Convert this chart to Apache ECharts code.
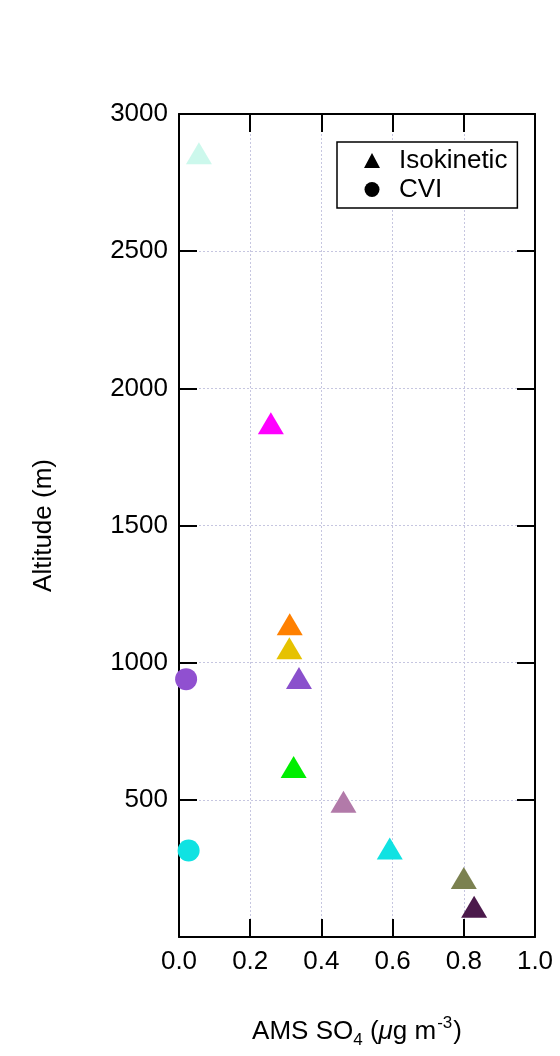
<!DOCTYPE html>
<html>
<head>
<meta charset="utf-8">
<script src="https://cdn.jsdelivr.net/npm/echarts@6/dist/echarts.min.js"></script>
<style>
html,body{margin:0;padding:0;background:#fff;}
#chart{width:560px;height:1056px;}
</style>
</head>
<body>
<div id="chart"></div>
<script>
// ---- data ----
const isoSO4 = [0.056, 0.258, 0.311, 0.310, 0.337, 0.322, 0.462, 0.592, 0.800, 0.829];
const isoAlt = [2857, 1873, 1140, 1053, 944, 620, 493, 323, 215, 110];
const cviSO4 = [0.020, 0.027];
const cviAlt = [940, 315];
const xTicks = [0.0, 0.2, 0.4, 0.6, 0.8, 1.0];
const yTicks = [500, 1000, 1500, 2000, 2500, 3000];
// point colours (style)
const isoColors = ['rgba(110,235,200,0.35)', '#ff00ff', '#ff8000', '#e6c200', '#8a50cc', '#00ee00', '#b27aa9', '#10e2e2', '#7b8150', '#4b1a4b'];
const cviColors = ['#9050d0', '#10e2e2'];

const FONT = '"Liberation Sans", Arial, Helvetica, sans-serif';
const chart = echarts.init(document.getElementById('chart'), null, {renderer: 'canvas'});

const isoData = isoSO4.map((v, i) => ({value: [v, isoAlt[i]], itemStyle: {color: isoColors[i], opacity: 1}}));
const cviData = cviSO4.map((v, i) => ({value: [v, cviAlt[i]], itemStyle: {color: cviColors[i], opacity: 1}}));

const axisCommon = {
  axisLine: {show: true, onZero: false, lineStyle: {color: '#000', width: 2}},
  axisTick: {show: true, inside: true, length: 18, lineStyle: {color: '#000', width: 2}},
};

chart.setOption({
  animation: false,
  backgroundColor: '#fff',
  grid: {left: 179, right: 25, top: 114, bottom: 119, containLabel: false},
  legend: {
    orient: 'vertical',
    left: 337, top: 142,
    padding: [4, 10, 4, 27],
    itemGap: 0,
    itemWidth: 16, itemHeight: 15,
    borderColor: '#000', borderWidth: 1.5,
    backgroundColor: '#fff',
    textStyle: {fontFamily: FONT, fontSize: 26, color: '#000', lineHeight: 29, padding: [0, 0, 0, 14]},
    data: [
      {name: 'Isokinetic', icon: 'triangle', itemStyle: {color: '#000', opacity: 1}},
      {name: 'CVI', icon: 'circle', itemStyle: {color: '#000', opacity: 1}}
    ]
  },
  xAxis: [
    Object.assign({
      type: 'value', position: 'bottom', min: 0, max: 1, interval: 0.2,
      name: '{n|AMS SO}{sub|4}{n| (}{it|μ}{n|g m}{sup|-3}{n|)}',
      nameLocation: 'middle', nameGap: 78,
      nameTextStyle: {
        rich: {
          n: {fontFamily: FONT, fontSize: 26, color: '#000', lineHeight: 34, verticalAlign: 'middle'},
          it: {fontFamily: FONT, fontSize: 26, color: '#000', fontStyle: 'italic', lineHeight: 34, verticalAlign: 'middle'},
          sub: {fontFamily: FONT, fontSize: 17, color: '#000', lineHeight: 27, verticalAlign: 'bottom'},
          sup: {fontFamily: FONT, fontSize: 17, color: '#000', lineHeight: 17, verticalAlign: 'top', padding: [0, 1, 0, 1]}
        }
      },
      axisLabel: {show: true, margin: 12, fontFamily: FONT, fontSize: 26, color: '#000',
        formatter: v => xTicks.find(t => Math.abs(t - v) < 1e-9) !== undefined ? v.toFixed(1) : ''},
      splitLine: {show: true, lineStyle: {color: '#c6c6e0', width: 1, type: [2, 2]}}
    }, axisCommon),
    Object.assign({
      type: 'value', position: 'top', min: 0, max: 1, interval: 0.2,
      axisLabel: {show: false}, splitLine: {show: false}
    }, axisCommon)
  ],
  yAxis: [
    Object.assign({
      type: 'value', position: 'left', min: 0, max: 3000, interval: 500,
      name: 'Altitude (m)', nameLocation: 'middle', nameGap: 122, nameRotate: 90,
      nameTextStyle: {fontFamily: FONT, fontSize: 26, color: '#000'},
      axisLabel: {show: true, margin: 11, fontFamily: FONT, fontSize: 26, color: '#000',
        formatter: v => yTicks.indexOf(v) >= 0 ? String(v) : ''},
      splitLine: {show: true, lineStyle: {color: '#c6c6e0', width: 1, type: [2, 2]}}
    }, axisCommon),
    Object.assign({
      type: 'value', position: 'right', min: 0, max: 3000, interval: 500,
      axisLabel: {show: false}, splitLine: {show: false}
    }, axisCommon)
  ],
  series: [
    {
      name: 'Isokinetic', type: 'scatter', xAxisIndex: 0, yAxisIndex: 0,
      symbol: 'triangle', symbolSize: [26, 22], data: isoData, z: 5,
      itemStyle: {opacity: 1}
    },
    {
      name: 'CVI', type: 'scatter', xAxisIndex: 0, yAxisIndex: 0,
      symbol: 'circle', symbolSize: 22, data: cviData, z: 5,
      itemStyle: {opacity: 1}
    }
  ]
});
</script>
</body>
</html>
